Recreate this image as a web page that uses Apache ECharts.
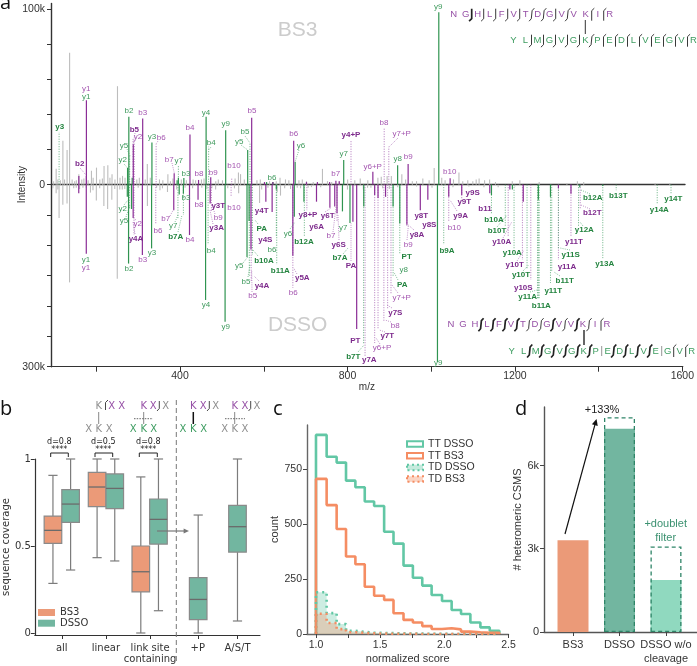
<!DOCTYPE html>
<html>
<head>
<meta charset="utf-8">
<title>Spectrum, coverage and score figure</title>
<script src="https://cdn.jsdelivr.net/npm/echarts@6/dist/echarts.min.js"></script>
<style>
  html, body { margin: 0; padding: 0; background: #fff; }
  #chart { width: 697px; height: 666px; }
</style>
</head>
<body>
<div id="chart"></div>
<script>
// Panel a: peaks as [m/z, intensity in k]
const bs3Grey = [[136,75],[250,56],[104,9],[120,25],[130,19.7],[158,6],[188,8],[200,9.7],[218,10.6],[227,11],[237,6],[321,11.8],[370,6],[538,7],[543,6],[637,4],[738,9],[927,6],[977,3.5],[1004,9.5],[1063,7],[1111,3.5],
  [98,2],[108,3],[114,2.5],[124,3],[142,3],[148,2],[152,2.5],[165,3],[170,3.5],[180,2.5],[192,4],[208,3],[214,3.5],[232,4],[244,3],[256,4],[262,5],[268,4],[296,3],[302,4],[316,3],[328,4],[350,3],[358,2.5],[376,2],[382,3.5],[402,3],[414,2.5],[430,3],[436,2.5],[450,3],[456,3.5],[484,2],[490,3],[500,2.5],[530,3.5],[552,3],[582,2.5],[590,3],[612,2],[628,2],[650,3],[658,2.5],[682,2.5],[690,3],[700,2],[716,1.5],[750,2],[760,1.5],[778,2],[798,3],[815,2.5],[828,3.5],[846,2.5],[870,4],[878,4.5],[892,5],[902,5],[936,3],[952,2],[962,2],[992,2.5],[1022,4],[1030,2.5],[1050,3],[1072,2],[1084,2.5],[1096,2],[1104,3],[1124,2.5],[1136,3],[1150,1.5],[1190,2],[1208,2.5],[1254,1.5],[1320,1],[1345,2],[1360,1.5],[1530,1],[1565,1]];
const bs3Purple = [[176,48],[287.6,23],[310,37.7],[422.6,28.6],[385,6.5],[443,2.7],[472,4.3],[569.5,38],[669.5,25],[770,2.3],[858,7.4],[942,11.8],[1042,3.6],[158,5],[176,5],[620,1.5],[600,1.5],[700,1.5],[726,1.5],[755,1.5],[778,2]];
const bs3Green = [[277,38.6],[332,24],[274,9.5],[408,3.8],[461,38.6],[507.6,31],[560,19.7],[620,1.5],[673,13],[788.6,14],[917,11],[1015,98],[395,4],[392,2.5],[285,4],[605,1.5]];
const bs3PurpleDot = [[806,25.4],[885,32],[896,21.6],[342,23],[287,26],[522,4],[290,25]];
const bs3GreenDot = [[111,30],[467,21.6],[565.5,24],[395,10.6],[279,16]];

const dssoGrey = [[136,161],[250,155],[111,55],[104,14],[120,33],[130,31],[186,13],[200,26],[218,35],[227,40],[237,25],[262,8],[300,5],[322,35],[370,12],[392,8],[430,6],[485,8],[530,6],[540,14],[590,30],[640,18],[632,12],[650,6],[688,6],[714,4],[838,8],[848,5],[1200,3],[1160,4],
  [96,6],[108,8],[146,6],[152,5],[160,7],[168,5],[176,5],[192,9],[208,6],[244,7],[256,8],[268,7],[344,5],[352,9],[358,6],[412,5],[452,5],[464,7],[476,6],[514,6],[595,8],[610,5],[664,7],[680,5],[706,5],[736,4],[800,8],[856,5],[884,6],[900,7],[920,4],[965,3],[1002,5],[1052,4],[1090,3],[1126,4]];
const dssoPurple = [[176,114],[288,55],[310,116],[158,14],[385,42],[422.6,83],[443,25],[472,31],[569.5,107],[605,28],[620,45],[669.5,117],[726,28],[758,38],[769.6,36],[775,47],[813,61],[822,238],[865,17],[873,22],[891,20],[942,66],[974,42],[992,25],[1042,20],[1073,17],[1140,14],[1188,8],[1220,28],[1304,6],[1334,15]];
const dssoGreen = [[277,130],[332,105],[274,20],[398,16],[408,15],[461,190],[507.6,226],[560,119],[565,60],[630,8],[673,53],[696,28],[788,44],[806,63],[839,36],[909,36],[925,64],[1015,292],[1144,17],[1194,8],[1256,25],[1285,20],[1355,4],[284,40],[1410,2]];
const dssoPurpleDot = [[290,83],[342,64],[522,19],[475,45],[570,160],[669.5,170],[703,42],[775,60],[865,261],[873,239],[887,226],[896,204],[904,179],[942,70],[1042,61],[1073,25],[1184,86],[1218,124],[1238,157],[1304,124],[1334,86],[1356,39],[842,283]];
const dssoGreenDot = [[279,40],[395,55],[408,50],[467,99],[565.5,152],[573,116],[630,85],[631,132],[697,86],[838.5,262],[909,150],[925,115],[1030,99],[1144,47],[1177,69],[1198,105],[1229,139],[1254,187],[1256,187],[1258,187],[1285,162],[1288,143],[1304,106],[1352,70],[1410,121],[1442,9],[1540,32],[1573,14]];

// Panel b: [position, low, q1, median, q3, high]
const boxCategories = ['all', 'linear', 'link site\ncontaining', '+P', 'A/S/T'];
const boxTicks = [1, 2, 3, 4.08, 4.98];
const coverageBS3 = [[0.8,0.285,0.515,0.59,0.672,0.906],[1.8,0.433,0.726,0.839,0.923,1],[2.79,0,0.236,0.352,0.5,0.897]];
const coverageDSSO = [[1.2,0.362,0.636,0.741,0.824,1],[2.2,0.414,0.715,0.831,0.914,1],[3.19,0.128,0.511,0.653,0.77,1],[4.09,0,0.077,0.193,0.318,0.678],[4.98,0.069,0.465,0.611,0.734,1]];

// Panel c: histogram bin edges and counts
const binEdges = [1,1.083,1.161,1.234,1.307,1.38,1.453,1.531,1.604,1.682,1.755,1.828,1.901,1.982,2.057,2.13,2.203,2.281,2.354,2.432];
const ttDSSO = [905,806,779,697,667,602,582,465,411,311,256,220,177,150,109,91,52,30,15];
const ttBS3 = [705,586,477,352,317,215,174,155,94,64,52,36,23,26,21,11,8,6,5];
const tdDSSO = [190,95,45,15,10,6,5,4,3,2,2,1,1,0,0,0,0,0,0];
const tdBS3 = [92,50,22,8,5,3,2,1,1,1,0,0,0,0,0,0,0,0,0];

// Panel d
const barCategories = ['BS3', 'DSSO', 'DSSO w/o\ncleavage'];
const csmCounts = [3310, 7320, 1870];
const csmWithFilter = [null, 7740, 3080];

const PURPLE = '#8b2d96', GREEN = '#2f9450';
const PURPLE_LIGHT = '#a867b4', GREEN_LIGHT = '#55a873';
const ORANGE = '#eb9a78', TEAL = '#72b6a0';
const MINT = '#90d9bf';
const SANS = '"Liberation Sans", Arial, sans-serif';
const DEJA = '"DejaVu Sans", sans-serif';

// Peak annotation labels as [text, px x, px y]
const purpleLabels = [['y1',86.3,89],['b3',142.7,112.7],['y2',138,136.7],['b6',161.3,137.7],['b7',169.3,159.7],['b4',190,127.7],['b8',199,173.3],['b9',213.3,172.7],['b10',234,165.3],['b5',252,111],['b6',293.7,133.3],['b7',335.7,173.7],['y6+P',372.7,166.7],['b8',384,122.7],['y7+P',401.7,133.7],['b9',408.3,157],['b10',449.7,171.7],
  ['b8',199,205],['b9',218.3,217.7],['b10',234,208],['b7',165.7,218.3],['b4',190,239.3],['y2',137.7,223.7],['b6',158,230.3],['b3',142.7,260],['y1',86,267.7],['b5',252.7,295.7],['b7',331,235.7],['b6',293.3,292.7],['b10',454.3,227.7],['b9',408.3,244.3],['y7+P',401.7,297.3],['b8',395.3,325.3],['y6+P',382,347.7]];
const purpleBold = [['b2',79.7,163.3],['b5',134.3,129.3],['y4+P',351,135],['y3T',218.3,206],['y3A',216.7,228],['y4A',136,238.7],['y4T',261.7,211],['y4S',265.3,239.3],['y4A',262,285.7],['y8+P',308,215],['y6A',316.7,227],['y6T',327.7,215.7],['y6S',338.7,244.3],['PA',351,265.7],['y5A',302.3,278],['PT',355.3,341],['y7A',369.3,360],['y9S',472.7,192.7],['y9T',464.3,202],['y9A',460.7,215.3],['y8T',421.3,215.3],['y8S',429.3,224.3],['y8A',417,234.3],['y7S',395.3,312.7],['y7T',387.3,335.7],['b11',485,208.7],['y10A',501.7,241.7],['y10T',514.7,264.7],['y10S',523.3,287.3],['y11A',567,266.7],['y11T',574,242],['b12T',592.3,212.7]];
const greenLabels = [['y1',86.3,96.3],['b2',129,111],['y5',124,145.3],['y2',122.7,160],['y3',152,136.7],['y7',178.7,161],['b3',186,174],['y4',206,112.3],['b4',211.3,142.7],['y9',225.7,123.7],['b5',245,132],['y5',239.3,141.7],['b6',272,177.3],['y6',301,146],['y7',343.7,153.3],['y8',397.7,158.3],['y9',438.3,6.7],
  ['b3',186,197.7],['y7',173.3,225.7],['b4',211.3,250.7],['y2',122.7,208.7],['y5',124,221],['y3',152,252.7],['b2',129,268.7],['y1',86,259.7],['y4',206,305],['y9',225.7,327],['b6',272,250],['y5',239.3,266],['b5',246,281.7],['y6',288,233.7],['y7',343.3,227.3],['y8',403.7,269.3],['y9',438.3,362.3]];
const greenBold = [['y3',59.7,126.3],['b7A',175.7,236.7],['PA',261.7,228.7],['b10A',264,260.7],['b11A',280.3,270.7],['b12A',304,241.7],['b7A',340,258],['b7T',353.3,356.7],['PT',406.7,256.3],['PA',402.3,284.7],['b9A',447,250.7],['b10A',494,220],['b10T',497,231],['y10A',512.3,252.3],['y10T',521,275],['y11A',527.7,296.3],['b11A',541.3,305.7],['y11T',553.3,291],['b11T',564.7,280.7],['y11S',570.7,254.3],['y12A',584.3,229.7],['b12A',592.7,197.3],['b13T',618.3,195.3],['y13A',604.7,264],['y14A',659.3,209.3],['y14T',673.3,198.3]];
// Leader lines from label to peak
const purpleLeaders = [[80,168,86,175],[135,133,133.3,144],[158,141,156,144],[172,163,174.3,173],[398,138,389,147],[136,220,133.3,218],[135,234,133,222],[170,216,174.3,208],[215,214,212,205],[213,224,210,210],[259,281,254,276],[252,292,251.7,270],[325,212,331,208],[333,232,336,207],[339,240,338,215],[351,261,351,223],[297,274,293.7,268],[380,344,376,338],[385,332,379.3,330],[391,322,385,320],[392,308,387,305],[398,293,392,285],[407,240,408.3,226],[414,230,408.3,225],[457,211,450,200],[503,238,511.7,222],[517,261,524,250],[590,209,581,205]];
const greenLeaders = [[124,164,127.7,168],[127,149,130,156],[245,136,250,143],[241,145,247.7,150],[299,150,295.3,161],[211,147,208.7,150],[124,205,128,200],[126,217,130,205],[175,222,178,215],[178,232,182,215],[243,263,247.7,257],[248,277,250,265],[258,256,253,250],[258,224,255,220],[290,229,295,222],[343,254,348,248],[358,352,364,345],[398,280,394.3,273],[497,227,507,215],[523,271,528.7,265],[530,292,537,290],[560,276,554,272],[570,250,560,248],[583,226,580,222],[590,194,581,190]];

// Sequences: letters plus one mark per gap (b: hook down, y: hook up, s: both, i: plain, upper case heavy, . none)
const seqTopA = 'NGHLFVTDGVVKIR', seqTopAMarks = '.Bbbbbssbs.yy';
const seqTopB = 'YLMGVGKPEDLVEGVR', seqTopBMarks = '.bbbbbsyyyyyyyy';
const seqBotA = 'NGHLFVTDGVVKIR', seqBotAMarks = '..SSSSssSsSsy';
const seqBotB = 'YLMGVGKPEDLVEGVR', seqBotBMarks = '.SSSSSSiSSSSiyy';

function stemSeries(data, grid, color, width, dashed) {
  return {
    type: 'custom',
    xAxisIndex: grid,
    yAxisIndex: grid,
    silent: true,
    animation: false,
    data: data,
    renderItem: function (params, api) {
      const a = api.coord([api.value(0), 0]);
      const b = api.coord([api.value(0), api.value(1)]);
      return {
        type: 'line',
        shape: { x1: a[0], y1: a[1], x2: b[0], y2: b[1] },
        style: { stroke: color, lineWidth: width, lineDash: dashed ? [1, 1.5] : null }
      };
    }
  };
}

function boxSeries(name, data, fill) {
  return {
    type: 'custom',
    name: name,
    xAxisIndex: 2,
    yAxisIndex: 2,
    silent: true,
    animation: false,
    itemStyle: { color: fill },
    encode: { x: 0, y: [1, 2, 3, 4, 5] },
    data: data,
    renderItem: function (params, api) {
      const x = api.value(0);
      const low = api.coord([x, api.value(1)]);
      const q1 = api.coord([x, api.value(2)]);
      const med = api.coord([x, api.value(3)]);
      const q3 = api.coord([x, api.value(4)]);
      const high = api.coord([x, api.value(5)]);
      const w = 8.8, cap = 4.6, cx = low[0];
      const stroke = { stroke: '#7c7c7c', lineWidth: 1.2 };
      const seg = (x1, y1, x2, y2, style) => ({ type: 'line', shape: { x1, y1, x2, y2 }, style: style || stroke });
      return {
        type: 'group',
        children: [
          seg(cx, low[1], cx, high[1]),
          seg(cx - cap, low[1], cx + cap, low[1]),
          seg(cx - cap, high[1], cx + cap, high[1]),
          { type: 'rect', shape: { x: cx - w, y: q3[1], width: 2 * w, height: q1[1] - q3[1] }, style: { fill: fill, stroke: '#8a8a8a', lineWidth: 1.2 } },
          seg(cx - w, med[1], cx + w, med[1], { stroke: '#6b6b6b', lineWidth: 1.3 })
        ]
      };
    }
  };
}

function stepPoints(counts) {
  const pts = [[binEdges[0], 0]];
  counts.forEach((c, i) => pts.push([binEdges[i], c]));
  pts.push([binEdges[counts.length - 1] + 0.075, 0]);
  return pts;
}

function histSeries(name, counts, color, dotted) {
  return {
    type: 'line',
    name: name,
    xAxisIndex: 3,
    yAxisIndex: 3,
    step: 'end',
    symbol: 'none',
    silent: true,
    animation: false,
    z: dotted ? 3 : 2,
    lineStyle: { color: color, width: 2.6, type: dotted ? [2, 4] : 'solid' },
    itemStyle: { color: color },
    areaStyle: dotted ? { color: color, opacity: 0.32 } : undefined,
    data: stepPoints(counts)
  };
}

// Annotation layer helpers
const txt = (text, x, y, color, size, font, extra) => ({
  type: 'text', silent: true, z: 20,
  style: Object.assign({ text: text, x: x, y: y, fill: color, font: `${size}px ${font}`, align: 'center', verticalAlign: 'middle' }, extra || {})
});
const seg = (x1, y1, x2, y2, color, width, dash) => ({
  type: 'line', silent: true, z: 19,
  shape: { x1, y1, x2, y2 },
  style: { stroke: color, lineWidth: width, lineDash: dash || null }
});
function arrow(x1, y1, x2, y2, color, width, size) {
  const ang = Math.atan2(y2 - y1, x2 - x1);
  const p = (d, a) => [x2 - d * Math.cos(ang + a), y2 - d * Math.sin(ang + a)];
  return [
    seg(x1, y1, p(size * 0.8, 0)[0], p(size * 0.8, 0)[1], color, width),
    { type: 'polygon', silent: true, z: 19, shape: { points: [[x2, y2], p(size, 0.45), p(size, -0.45)] }, style: { fill: color } }
  ];
}
function seqRow(letters, marks, x0, y, color) {
  const out = [];
  const step = 12;
  letters.split('').forEach((c, i) => out.push(txt(c, x0 + i * step, y, color, 9.5, SANS)));
  marks.split('').forEach((m, i) => {
    if (m === '.') return;
    const x = x0 + (i + 0.5) * step;
    const heavy = m === m.toUpperCase();
    const k = m.toLowerCase();
    let pts = [[x, y - 5], [x, y + 5]];
    if (k === 'b') pts = [[x, y - 6], [x, y + 4], [x - 2.6, y + 6.5]];
    if (k === 'y') pts = [[x, y + 6], [x, y - 4], [x + 2.6, y - 6.5]];
    if (k === 's') pts = [[x + 2.6, y - 6.5], [x + 0.4, y - 4], [x - 0.4, y + 4], [x - 2.6, y + 6.5]];
    out.push({
      type: 'polyline', silent: true, z: 19, shape: { points: pts },
      style: { stroke: k === 'i' ? '#8a8a8a' : '#222', lineWidth: heavy ? 1.7 : 0.9, fill: null }
    });
  });
  return out;
}
// Cross-link glyph above the box plot
function glyph(tx, topColors, topLabels, mark, bx, botColors, linkX, thick, dashed) {
  const out = [];
  const topY = 406, botY = 429.7;
  topLabels.forEach((t, i) => out.push(txt(t, tx[i], topY, topColors[i], 10, DEJA)));
  bx.forEach((x, i) => out.push(txt(i === 1 ? 'K' : 'X', x, botY, botColors, 10, DEJA)));
  out.push({
    type: 'polyline', silent: true, z: 19,
    shape: { points: mark.pts }, style: { stroke: '#333', lineWidth: 0.9, fill: null }
  });
  out.push(seg(linkX, 412, linkX, 424, thick ? '#111' : '#888', thick ? 1.5 : 1));
  if (dashed) out.push(seg(dashed[0], 418.7, dashed[1], 418.7, '#555', 0.9, [1.5, 1.2]));
  return out;
}

const graphics = [];
[['a', 0, 3.5], ['b', 0, 409], ['c', 273, 409], ['d', 515, 409]].forEach(l => {
  graphics.push(txt(l[0], l[1], l[2], '#111', 20, '"Open Sans", sans-serif', { align: 'left' }));
});
graphics.push(txt('BS3', 297.7, 30, '#cccccc', 21, SANS));
graphics.push(txt('DSSO', 297.7, 325, '#cccccc', 21, SANS));
purpleLabels.forEach(l => graphics.push(txt(l[0], l[1], l[2], '#a455b0', 8, SANS)));
purpleBold.forEach(l => graphics.push(txt(l[0], l[1], l[2], '#7d2a8c', 8, SANS, { font: `bold 8px ${SANS}` })));
greenLabels.forEach(l => graphics.push(txt(l[0], l[1], l[2], '#3f9a5d', 8, SANS)));
greenBold.forEach(l => graphics.push(txt(l[0], l[1], l[2], '#23843f', 8, SANS, { font: `bold 8px ${SANS}` })));
purpleLeaders.forEach(p => graphics.push(seg(p[0], p[1], p[2], p[3], PURPLE_LIGHT, 0.7, [1, 1.2])));
greenLeaders.forEach(p => graphics.push(seg(p[0], p[1], p[2], p[3], GREEN_LIGHT, 0.7, [1, 1.2])));

const SEQ_PURPLE = '#9650a6', SEQ_GREEN = '#3d9c60';
graphics.push(...seqRow(seqTopA, seqTopAMarks, 453.7, 14.7, SEQ_PURPLE));
graphics.push(...seqRow(seqTopB, seqTopBMarks, 513.5, 40.7, SEQ_GREEN));
graphics.push(seg(585.3, 20, 585.3, 34, '#333', 1));
graphics.push(...seqRow(seqBotA, seqBotAMarks, 451, 324.7, SEQ_PURPLE));
graphics.push(...seqRow(seqBotB, seqBotBMarks, 511.7, 351, SEQ_GREEN));
graphics.push(seg(584, 330, 584, 345, '#333', 1.5));

// Panel b annotations
const GREY_X = '#8e8e8e';
graphics.push(...glyph([98.7, 111.7, 121.7], [GREY_X, SEQ_PURPLE, SEQ_PURPLE], ['K', 'X', 'X'],
  { pts: [[105.5, 410], [105.5, 402.5], [108, 400]] }, [88.7, 98.7, 109.3], GREY_X, 98.7, false, null));
graphics.push(...glyph([143.7, 153.3, 165.7], [SEQ_PURPLE, SEQ_PURPLE, GREY_X], ['K', 'X', 'X'],
  { pts: [[159.3, 401], [159.3, 408.5], [157, 411]] }, [133.3, 143.7, 153.7], SEQ_GREEN, 143.7, false, [134, 153]));
graphics.push(...glyph([193.3, 203.3, 215.7], [SEQ_PURPLE, SEQ_PURPLE, GREY_X], ['K', 'X', 'X'],
  { pts: [[209.3, 401], [209.3, 408.5], [207, 411]] }, [183, 193.3, 203.7], SEQ_GREEN, 193.3, true, null));
graphics.push(...glyph([234.7, 245, 257], [SEQ_PURPLE, SEQ_PURPLE, GREY_X], ['K', 'X', 'X'],
  { pts: [[250.7, 401], [250.7, 408.5], [248.5, 411]] }, [224.7, 234.7, 245], GREY_X, 234.7, false, [225, 245]));
[[59.3, 'd=0.8', 50.7, 68.3], [103.3, 'd=0.5', 95, 112.7], [148.3, 'd=0.8', 139.3, 157.3]].forEach(d => {
  graphics.push(txt(d[1], d[0], 442.3, '#222', 8, DEJA));
  graphics.push(txt('****', d[0], 449.5, '#222', 8, DEJA));
  graphics.push({
    type: 'polyline', silent: true, z: 19,
    shape: { points: [[d[2], 457], [d[2], 453], [d[3], 453], [d[3], 457]] },
    style: { stroke: '#222', lineWidth: 1, fill: null }
  });
});
graphics.push(seg(176.3, 400, 176.3, 663, '#777', 1, [5, 3]));
graphics.push(...arrow(157, 531, 189, 531, '#777', 1.2, 6));

// Panel d annotations
graphics.push(...arrow(565, 534, 596.5, 419, '#111', 1.2, 7));
graphics.push(txt('+133%', 602, 410, '#222', 11, SANS));
graphics.push(txt('+doublet', 665.7, 523.5, '#3b9170', 11, SANS));
graphics.push(txt('filter', 665.7, 537.5, '#3b9170', 11, SANS));

const axisLine = (color, w) => ({ show: true, onZero: false, lineStyle: { color: color, width: w } });

const option = {
  animation: false,
  grid: [
    { left: 51, top: 3.5, width: 634, height: 181.2 },
    { left: 51, top: 184.7, width: 634, height: 182 },
    { left: 32, top: 459, width: 228, height: 176 },
    { left: 307, top: 425, width: 201.5, height: 209 },
    { left: 544, top: 407, width: 153, height: 227 }
  ],
  legend: [
    {
      data: ['BS3', 'DSSO'], orient: 'vertical', left: 38, top: 607.5, padding: 0, icon: 'rect',
      itemWidth: 17, itemHeight: 7, itemGap: 0.7, selectedMode: false,
      textStyle: { fontFamily: DEJA, fontSize: 10, color: '#333' }
    },
    {
      data: [
        { name: 'TT DSSO', itemStyle: { color: '#fff', borderColor: '#62c7a5', borderWidth: 2 } },
        { name: 'TT BS3', itemStyle: { color: '#fff', borderColor: '#f58d63', borderWidth: 2 } },
        { name: 'TD DSSO', itemStyle: { color: '#c5eadd', borderColor: '#62c7a5', borderWidth: 2, borderType: [2, 3] } },
        { name: 'TD BS3', itemStyle: { color: '#fbd4c3', borderColor: '#f58d63', borderWidth: 2, borderType: [2, 3] } }
      ],
      orient: 'vertical', left: 406, top: 438.5, padding: 0, icon: 'rect',
      itemWidth: 16, itemHeight: 5.5, itemGap: 0.7, selectedMode: false,
      textStyle: { fontFamily: SANS, fontSize: 10.5, color: '#333' }
    }
  ],
  xAxis: [
    {
      type: 'value', gridIndex: 0, min: 91.7, max: 1601.2, position: 'bottom',
      axisLine: axisLine('#333', 1.4), axisTick: { show: false }, axisLabel: { show: false }, splitLine: { show: false }
    },
    {
      type: 'value', gridIndex: 1, min: 91.7, max: 1601.2, position: 'bottom',
      name: 'm/z', nameLocation: 'middle', nameGap: 14,
      nameTextStyle: { fontFamily: SANS, fontSize: 10, color: '#333' },
      axisLine: axisLine('#333', 1.2),
      axisTick: { length: 5, lineStyle: { color: '#333' }, customValues: [200, 400, 600, 800, 1000, 1200, 1400, 1600] },
      axisLabel: { customValues: [400, 800, 1200, 1600], fontFamily: SANS, fontSize: 10.5, color: '#333', margin: 4, formatter: v => String(v) },
      splitLine: { show: false }
    },
    {
      type: 'value', gridIndex: 2, min: 0.389, max: 5.49, position: 'bottom',
      axisLine: axisLine('#333', 1.2),
      axisTick: { length: 4, lineStyle: { color: '#333' }, customValues: boxTicks },
      axisLabel: {
        customValues: boxTicks, fontFamily: DEJA, fontSize: 10, color: '#333', margin: 8, lineHeight: 11,
        formatter: v => boxCategories[boxTicks.indexOf(v)]
      },
      splitLine: { show: false }
    },
    {
      type: 'value', gridIndex: 3, min: 0.93, max: 2.5, position: 'bottom',
      name: 'normalized score', nameLocation: 'middle', nameGap: 19,
      nameTextStyle: { fontFamily: SANS, fontSize: 11, color: '#333' },
      axisLine: axisLine('#666', 1.4),
      axisTick: { length: 4, lineStyle: { color: '#444' }, customValues: [1, 1.25, 1.5, 1.75, 2, 2.25, 2.5] },
      axisLabel: { customValues: [1, 1.5, 2, 2.5], fontFamily: SANS, fontSize: 10.5, color: '#333', margin: 6, formatter: v => v.toFixed(1) },
      splitLine: { show: false }
    },
    {
      type: 'value', gridIndex: 4, min: 0.376, max: 3.667, position: 'bottom',
      axisLine: axisLine('#555', 1.4),
      axisTick: { length: 4, lineStyle: { color: '#444' }, customValues: [1, 2, 3] },
      axisLabel: {
        customValues: [1, 2, 3], fontFamily: SANS, fontSize: 11, color: '#333', margin: 6, lineHeight: 14,
        formatter: v => barCategories[v - 1]
      },
      splitLine: { show: false }
    }
  ],
  yAxis: [
    {
      type: 'value', gridIndex: 0, min: 0, max: 103,
      name: 'Intensity', nameLocation: 'start', nameGap: 0,
      nameRotate: 90,
      nameTextStyle: { fontFamily: SANS, fontSize: 10, color: '#333', align: 'center', verticalAlign: 'bottom', padding: [0, 0, 24, 0] },
      axisLine: axisLine('#333', 1.4),
      axisTick: { length: 4, lineStyle: { color: '#333' }, customValues: [0, 20, 40, 60, 80, 100] },
      axisLabel: { customValues: [0, 100], fontFamily: SANS, fontSize: 10.5, color: '#333', margin: 6, formatter: v => v === 0 ? '0' : v + 'k' },
      splitLine: { show: false }
    },
    {
      type: 'value', gridIndex: 1, min: 0, max: 300, inverse: true,
      axisLine: axisLine('#333', 1.4),
      axisTick: { length: 4, lineStyle: { color: '#333' }, customValues: [50, 100, 150, 200, 250, 300] },
      axisLabel: { customValues: [300], fontFamily: SANS, fontSize: 10.5, color: '#333', margin: 6, formatter: v => v + 'k' },
      splitLine: { show: false }
    },
    {
      type: 'value', gridIndex: 2, min: -0.0115, max: 1,
      name: 'sequence coverage', nameLocation: 'middle', nameGap: 23,
      nameTextStyle: { fontFamily: DEJA, fontSize: 10, color: '#333' },
      axisLine: axisLine('#333', 1.2),
      axisTick: { length: 4, lineStyle: { color: '#333' }, customValues: [0, 0.5, 1] },
      axisLabel: { customValues: [0, 0.5, 1], fontFamily: DEJA, fontSize: 10, color: '#333', margin: 4 },
      splitLine: { show: false }
    },
    {
      type: 'value', gridIndex: 3, min: 0, max: 950,
      name: 'count', nameLocation: 'middle', nameGap: 26,
      nameTextStyle: { fontFamily: SANS, fontSize: 11, color: '#333' },
      axisLine: axisLine('#666', 1.4),
      axisTick: { length: 4, lineStyle: { color: '#444' }, customValues: [0, 250, 500, 750] },
      axisLabel: { customValues: [0, 250, 500, 750], fontFamily: SANS, fontSize: 10.5, color: '#333', margin: 5 },
      splitLine: { show: false }
    },
    {
      type: 'value', gridIndex: 4, min: 0, max: 8107,
      name: '# heteromeric CSMS', nameLocation: 'middle', nameGap: 19,
      nameTextStyle: { fontFamily: SANS, fontSize: 11, color: '#333' },
      axisLine: axisLine('#555', 1.4),
      axisTick: { length: 4, lineStyle: { color: '#444' }, customValues: [0, 3000, 6000] },
      axisLabel: { customValues: [0, 3000, 6000], fontFamily: SANS, fontSize: 11, color: '#333', margin: 5, formatter: v => v === 0 ? '0' : (v / 1000) + 'k' },
      splitLine: { show: false }
    }
  ],
  series: [
    stemSeries(bs3Grey, 0, '#bdbdbd', 1.1),
    stemSeries(bs3PurpleDot, 0, PURPLE_LIGHT, 0.9, true),
    stemSeries(bs3GreenDot, 0, GREEN_LIGHT, 0.9, true),
    stemSeries(bs3Green, 0, GREEN, 1.2),
    stemSeries(bs3Purple, 0, PURPLE, 1.2),
    stemSeries(dssoGrey, 1, '#bdbdbd', 1.1),
    stemSeries(dssoPurpleDot, 1, PURPLE_LIGHT, 0.9, true),
    stemSeries(dssoGreenDot, 1, GREEN_LIGHT, 0.9, true),
    stemSeries(dssoGreen, 1, GREEN, 1.2),
    stemSeries(dssoPurple, 1, PURPLE, 1.2),
    boxSeries('BS3', coverageBS3, ORANGE),
    boxSeries('DSSO', coverageDSSO, TEAL),
    histSeries('TT DSSO', ttDSSO, '#62c7a5', false),
    histSeries('TT BS3', ttBS3, '#f58d63', false),
    histSeries('TD DSSO', tdDSSO, '#62c7a5', true),
    histSeries('TD BS3', tdBS3, '#f58d63', true),
    {
      type: 'bar', xAxisIndex: 4, yAxisIndex: 4, barWidth: 31, barGap: '-100%', silent: true, animation: false,
      data: csmCounts.map((v, i) => ({ value: [i + 1, v], itemStyle: { color: [ORANGE, TEAL, MINT][i] } }))
    },
    {
      type: 'bar', xAxisIndex: 4, yAxisIndex: 4, barWidth: 31, barGap: '-100%', silent: true, animation: false,
      itemStyle: { color: 'rgba(0,0,0,0)', borderColor: '#2f8568', borderWidth: 1.3, borderType: [4, 3] },
      data: csmWithFilter.map((v, i) => [i + 1, v])
    }
  ],
  graphic: { elements: graphics }
};

const chart = echarts.init(document.getElementById('chart'), null, { renderer: 'canvas' });
chart.setOption(option);
</script>
</body>
</html>
